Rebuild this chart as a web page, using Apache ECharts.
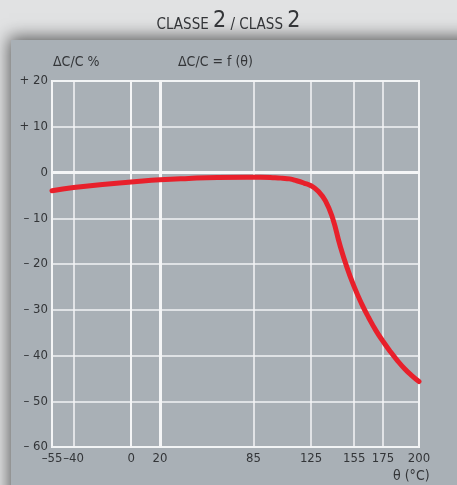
<!DOCTYPE html>
<html>
<head>
<meta charset="utf-8">
<script src="https://cdn.jsdelivr.net/npm/echarts@6/dist/echarts.min.js"></script>
<style>
  html, body { margin: 0; padding: 0; background: #e1e2e3; }
  #chart { width: 457px; height: 485px; }
</style>
</head>
<body>
<div id="chart"></div>
<script>
// Temperature (°C) and capacitance change ΔC/C (%) for a class 2 dielectric
const temperature = [-55, -40, -20, 0, 20, 40, 60, 80, 90, 100, 105, 110, 115, 120, 125, 130, 135, 140, 145, 150, 155, 160, 165, 170, 175, 180, 185, 190, 195, 200];
const deltaC      = [-4.0, -3.3, -2.6, -2.1, -1.6, -1.3, -1.1, -1.05, -1.05, -1.15, -1.25, -1.4, -1.8, -2.3, -2.9, -4.1, -6.2, -10.0, -15.8, -20.8, -25.0, -28.6, -31.7, -34.5, -36.9, -39.1, -41.1, -42.9, -44.4, -45.7];

// Axis ticks
const xTicks = [-55, -40, 0, 20, 85, 125, 155, 175, 200];
const xGridLines = [-40, 0, 20, 85, 125, 155, 175];
const yMin = -60, yMax = 20, yStep = 10;

const FONT = '"Liberation Sans Narrow", "DejaVu Sans Condensed", "Liberation Sans", sans-serif';
const TEXT = '#333538';

function signed(v) {
  if (v > 0) return '+ ' + v;
  if (v < 0) return '\u2013 ' + Math.abs(v);
  return '0';
}
function signedX(v) {
  if (v < 0) return '\u2013' + Math.abs(v);
  return String(v);
}

const chart = echarts.init(document.getElementById('chart'), null, { renderer: 'canvas' });

chart.setOption({
  backgroundColor: '#e1e2e3',
  animation: false,
  graphic: [
    {
      type: 'rect',
      z: -10,
      shape: { x: 11, y: 40, width: 470, height: 470 },
      style: {
        fill: '#a9b0b6',
        shadowBlur: 16,
        shadowColor: 'rgba(0,0,0,0.6)',
        shadowOffsetX: -2,
        shadowOffsetY: -3
      }
    },
    {
      type: 'text',
      left: 'center',
      top: 10,
      style: {
        text: '{s|CLASSE }{b|2}{s| / CLASS }{b|2}',
        font: '15px ' + FONT,
        rich: {
          s: { fontSize: 15, fontFamily: FONT, fill: TEXT, verticalAlign: 'bottom', lineHeight: 24 },
          b: { fontSize: 23, fontFamily: FONT, fill: TEXT, verticalAlign: 'bottom', lineHeight: 24 }
        }
      }
    },
    {
      type: 'text',
      x: 53, y: 62,
      style: { text: '\u0394C/C %', font: '14px ' + FONT, fill: TEXT, verticalAlign: 'middle' }
    },
    {
      type: 'text',
      x: 178, y: 62,
      style: { text: '\u0394C/C = f (\u03b8)', font: '14px ' + FONT, fill: TEXT, verticalAlign: 'middle' }
    },
    {
      type: 'text',
      x: 393, y: 476,
      style: { text: '\u03b8 (\u00b0C)', font: '14px ' + FONT, fill: TEXT, verticalAlign: 'middle' }
    }
  ],
  grid: {
    left: 52, top: 81, width: 367, height: 366,
    show: true,
    borderColor: '#f4f5f6',
    borderWidth: 2,
    backgroundColor: 'transparent'
  },
  xAxis: {
    type: 'value',
    min: -55,
    max: 200,
    axisLine: { show: true, lineStyle: { color: '#f4f5f6', width: 2 } },
    axisTick: { show: false },
    splitLine: { show: false },
    axisLabel: {
      customValues: xTicks,
      formatter: signedX,
      color: TEXT,
      fontFamily: FONT,
      fontSize: 13,
      margin: 5
    }
  },
  yAxis: {
    type: 'value',
    min: yMin,
    max: yMax,
    interval: yStep,
    axisLine: { show: true, lineStyle: { color: '#f4f5f6', width: 2 } },
    axisTick: { show: false },
    splitLine: { show: true, lineStyle: { color: '#f2f3f4', width: 1.5 } },
    axisLabel: {
      formatter: signed,
      color: TEXT,
      fontFamily: FONT,
      fontSize: 13,
      margin: 4
    }
  },
  series: [
    {
      // reference grid lines at the rated temperatures
      type: 'line',
      data: [],
      silent: true,
      z: 1,
      markLine: {
        silent: true,
        symbol: 'none',
        label: { show: false },
        animation: false,
        data: xGridLines.map(v => ({
          xAxis: v,
          lineStyle: { color: '#f4f5f6', width: v === 20 ? 3 : 1.5, type: 'solid' }
        })).concat([{
          yAxis: 0,
          lineStyle: { color: '#f4f5f6', width: 3, type: 'solid' }
        }])
      }
    },
    {
      type: 'line',
      data: temperature.map((t, i) => [t, deltaC[i]]),
      smooth: 0.5,
      showSymbol: false,
      z: 5,
      lineStyle: { color: '#e8202b', width: 5, cap: 'round', join: 'round' }
    }
  ]
});
</script>
</body>
</html>
